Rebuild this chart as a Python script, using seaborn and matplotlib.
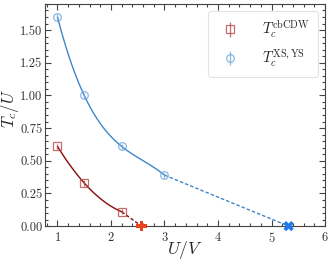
import numpy as np
import pandas as pd
import matplotlib
matplotlib.use("Agg")
import matplotlib.pyplot as plt
import seaborn as sns
from matplotlib.ticker import AutoMinorLocator, MultipleLocator

sns.set_style('ticks')
plt.rcParams['font.family'] = 'serif'
plt.rcParams['font.serif'] = ['cmr10', 'DejaVu Serif']
plt.rcParams['mathtext.fontset'] = 'cm'
plt.rcParams['axes.formatter.use_mathtext'] = True
plt.rcParams['axes.unicode_minus'] = False

# data
cdw_uv = [1.0, 1.5, 2.2]
cdw_tc = [0.61, 0.33, 0.11]
cdw_err = [0.02, 0.02, 0.02]
cdw_end_uv = [2.57]
cdw_end_tc = [0.0]

xs_uv = [1.0, 1.5, 2.2, 3.0]
xs_tc = [1.60, 1.00, 0.61, 0.39]
xs_err = [0.02, 0.02, 0.02, 0.02]
xs_end_uv = [5.32]
xs_end_tc = [0.0]

red_line = '#8b0a0a'
red_mark = '#b84a4a'
red_end = '#e8431a'
blue_line = '#3f86cc'
blue_mark = '#6fa6dc'
blue_end = '#1f78f0'

fig = plt.figure(figsize=(3.32, 2.62), dpi=100)
ax = fig.add_axes([0.136, 0.137, 0.843, 0.848])

# smooth curves through the points
sns.regplot(x=cdw_uv, y=cdw_tc, order=2, ci=None, scatter=False, truncate=True,
            line_kws=dict(color=red_line, lw=1.0), ax=ax)
sns.regplot(x=xs_uv, y=xs_tc, order=3, ci=None, scatter=False, truncate=True,
            line_kws=dict(color=blue_line, lw=1.0), ax=ax)

# dashed extensions to the critical points
sns.lineplot(x=[cdw_uv[-1], cdw_end_uv[0]], y=[cdw_tc[-1], cdw_end_tc[0]],
             color=red_line, lw=1.0, linestyle=(0, (2.5, 1.5)), ax=ax)
sns.lineplot(x=[xs_uv[-1], xs_end_uv[0]], y=[xs_tc[-1], xs_end_tc[0]],
             color=blue_line, lw=1.0, linestyle=(0, (2.5, 1.5)), ax=ax)

h1 = ax.errorbar(cdw_uv, cdw_tc, yerr=cdw_err, fmt='s', ms=5.5, mfc='none',
                 mec=red_mark, ecolor=red_mark, mew=0.9, elinewidth=0.9,
                 alpha=0.8, label=r'$T_c^{\rm cbCDW}$', zorder=4)
h2 = ax.errorbar(xs_uv, xs_tc, yerr=xs_err, fmt='o', ms=5.5, mfc='none',
                 mec=blue_mark, ecolor=blue_mark, mew=0.9, elinewidth=0.9,
                 alpha=0.8, label=r'$T_c^{\rm XS,YS}$', zorder=4)

sns.scatterplot(x=cdw_end_uv, y=cdw_end_tc, marker='P', s=55, color=red_end,
                edgecolor='none', clip_on=False, zorder=5, ax=ax)
sns.scatterplot(x=xs_end_uv, y=xs_end_tc, marker='X', s=55, color=blue_end,
                edgecolor='none', clip_on=False, zorder=5, ax=ax)

ax.set_xlim(0.77, 6)
ax.set_ylim(0, 1.7)
ax.xaxis.set_major_locator(MultipleLocator(1))
ax.yaxis.set_major_locator(MultipleLocator(0.25))
ax.yaxis.set_major_formatter(plt.FormatStrFormatter('%.2f'))
ax.xaxis.set_minor_locator(AutoMinorLocator(5))
ax.yaxis.set_minor_locator(AutoMinorLocator(5))
ax.tick_params(which='both', direction='in', top=True, right=True,
               colors='#444444', labelcolor='#333333', width=0.8)
ax.tick_params(which='major', length=4, labelsize=9)
ax.tick_params(which='minor', length=2)
ax.tick_params(axis='y', pad=2)
for s in ax.spines.values():
    s.set_color('#444444')
    s.set_linewidth(0.8)

ax.set_xlabel(r'$U/V$', fontsize=12.5)
ax.set_ylabel(r'$T_c/U$', fontsize=12)
ax.xaxis.set_label_coords(0.5, -0.06)
ax.yaxis.set_label_coords(-0.085, 0.53)

leg = ax.legend(handles=[h1, h2], loc='upper right', fontsize=10.5,
                frameon=True, fancybox=True, borderpad=0.5, handletextpad=1.2,
                labelspacing=0.5)
leg.get_frame().set_edgecolor('#dddddd')
leg.get_frame().set_linewidth(0.8)

fig.savefig('out.png', dpi=100)
